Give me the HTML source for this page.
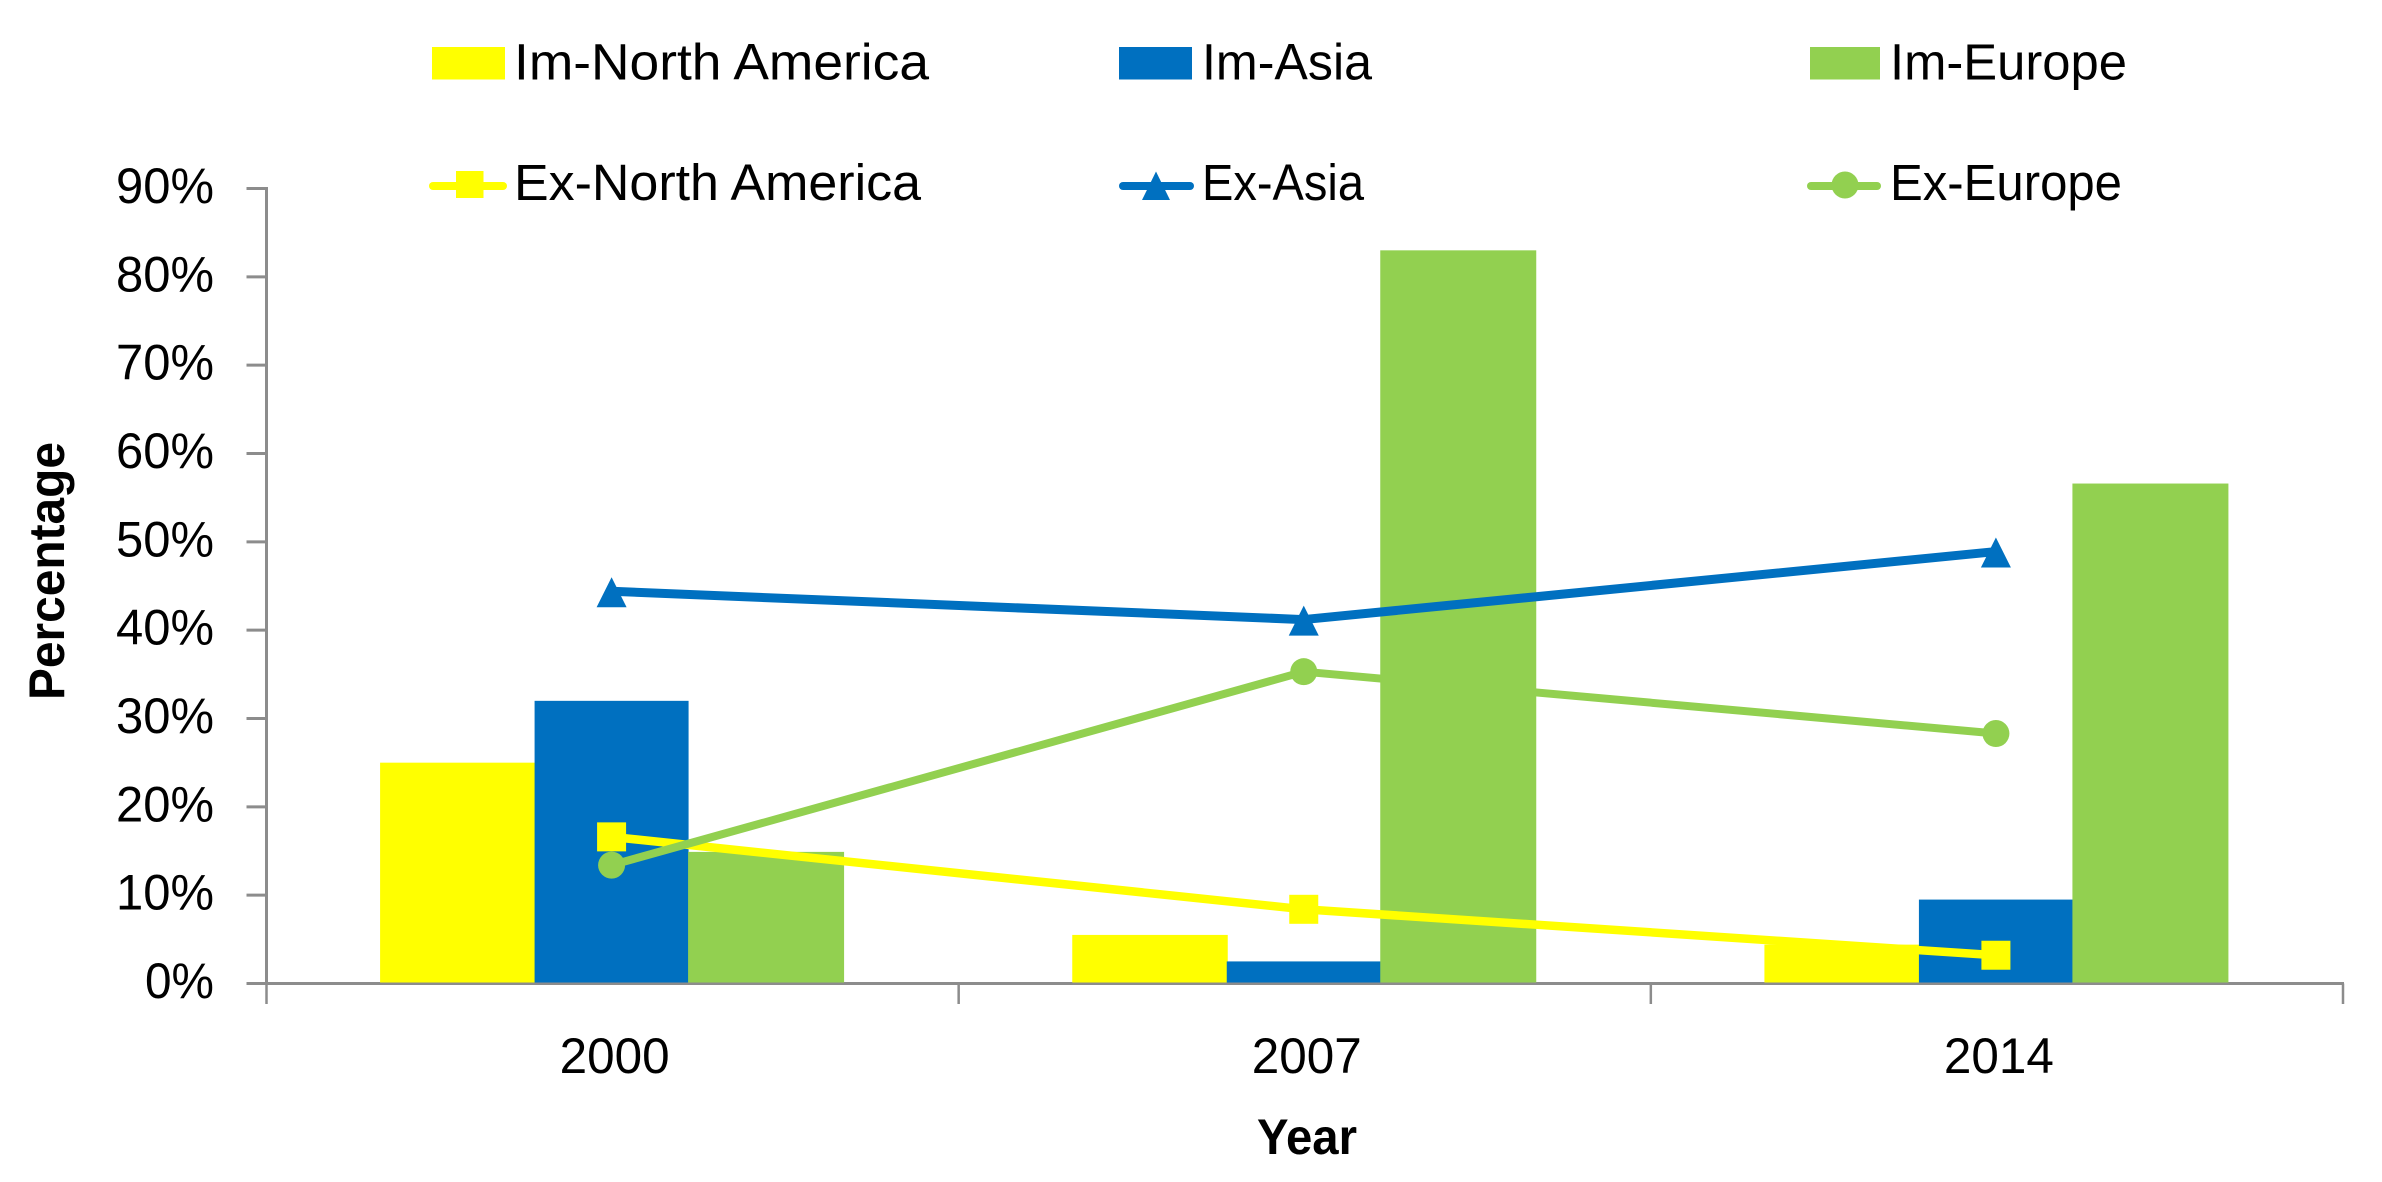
<!DOCTYPE html>
<html lang="en">
<head>
<meta charset="utf-8">
<title>Imports and exports by region</title>
<style>
html,body{margin:0;padding:0;background:#fff;}
svg{display:block;}
text{font-family:"Liberation Sans",sans-serif;fill:#000;}
</style>
</head>
<body>
<svg id="chart" xmlns="http://www.w3.org/2000/svg" width="2382" height="1182" viewBox="0 0 2382 1182">
  <rect x="0" y="0" width="2382" height="1182" fill="#ffffff"/>
  <g id="axes"></g>
  <g id="bars"></g>
  <g id="lines"></g>
  <text transform="translate(64,700) rotate(-90)" font-size="50" font-weight="700" textLength="258" lengthAdjust="spacingAndGlyphs">Percentage</text>
  <text x="1257" y="1154" font-size="50" font-weight="700" textLength="100" lengthAdjust="spacingAndGlyphs">Year</text>
  <g>
    <g>
      <rect x="432" y="47" width="73" height="32.5" fill="#FFFF00"/>
      <text x="514" y="79.5" font-size="51" textLength="415" lengthAdjust="spacingAndGlyphs">Im-North America</text>
    </g>
    <g>
      <rect x="1119" y="47" width="73" height="32.5" fill="#0070C0"/>
      <text x="1202" y="79.5" font-size="51" textLength="170" lengthAdjust="spacingAndGlyphs">Im-Asia</text>
    </g>
    <g>
      <rect x="1810" y="47" width="70" height="32.5" fill="#92D050"/>
      <text x="1890" y="79.5" font-size="51" textLength="237" lengthAdjust="spacingAndGlyphs">Im-Europe</text>
    </g>
    <g>
      <line x1="433" y1="186" x2="503" y2="186" stroke="#FFFF00" stroke-width="8" stroke-linecap="round"/>
      <rect x="456" y="171" width="27.5" height="27" fill="#FFFF00"/>
      <text x="514" y="200" font-size="51" textLength="407" lengthAdjust="spacingAndGlyphs">Ex-North America</text>
    </g>
    <g>
      <line x1="1123" y1="186" x2="1190" y2="186" stroke="#0070C0" stroke-width="8" stroke-linecap="round"/>
      <polygon points="1156,171.5 1142,200 1170,200" fill="#0070C0"/>
      <text x="1202" y="200" font-size="51" textLength="162" lengthAdjust="spacingAndGlyphs">Ex-Asia</text>
    </g>
    <g>
      <line x1="1811" y1="186" x2="1877" y2="186" stroke="#92D050" stroke-width="8" stroke-linecap="round"/>
      <circle cx="1845" cy="185" r="13.5" fill="#92D050"/>
      <text x="1890" y="200" font-size="51" textLength="232" lengthAdjust="spacingAndGlyphs">Ex-Europe</text>
    </g>
  </g>
</svg>
<script>
const categories = ["2000", "2007", "2014"];
const yTickValues = [0, 10, 20, 30, 40, 50, 60, 70, 80, 90];
const yTickLabels = ["0%", "10%", "20%", "30%", "40%", "50%", "60%", "70%", "80%", "90%"];
const imNorthAmerica = [25.0, 5.5, 4.4];
const imAsia = [32.0, 2.5, 9.5];
const imEurope = [14.9, 83.0, 56.6];
const exNorthAmerica = [16.6, 8.4, 3.2];
const exAsia = [44.4, 41.2, 48.9];
const exEurope = [13.4, 35.3, 28.3];

const NS = "http://www.w3.org/2000/svg";
const plotLeft = 266.5, plotRight = 2343, plotBottom = 983.5, plotTop = 188.5;
const yMax = 90;

function yScale(v) { return plotBottom - (v / yMax) * (plotBottom - plotTop); }
function bandWidth() { return (plotRight - plotLeft) / categories.length; }
function xCenter(i) { return plotLeft + bandWidth() * (i + 0.5); }
function make(tag, attrs, parent) {
  const el = document.createElementNS(NS, tag);
  for (const k in attrs) el.setAttribute(k, attrs[k]);
  parent.appendChild(el);
  return el;
}

const axes = document.getElementById("axes");
const barsG = document.getElementById("bars");
const linesG = document.getElementById("lines");
const gray = "#8c8c8c";

let yAxis = make("line", {x1: plotLeft, y1: plotTop - 1.5, x2: plotLeft, y2: plotBottom, stroke: gray, "stroke-width": 3}, axes);



yTickValues.forEach(function (v, i) {
  const tick = make("line", {x1: plotLeft - 20, y1: yScale(v), x2: plotLeft, y2: yScale(v), stroke: gray, "stroke-width": 3}, axes);
  
  
  const label = make("text", {x: 214, y: yScale(v) + 14.5, "font-size": 50, "text-anchor": "end", textLength: v === 0 ? 69 : 98, lengthAdjust: "spacingAndGlyphs"}, axes);
  label.textContent = yTickLabels[i];
  
  
});

let xAxis = make("line", {x1: plotLeft - 20, y1: plotBottom, x2: plotRight + 1, y2: plotBottom, stroke: gray, "stroke-width": 3}, axes);



for (let i = 0; i <= categories.length; i++) {
  const tx = plotLeft + bandWidth() * i;
  const tick = make("line", {x1: tx, y1: plotBottom, x2: tx, y2: 1004, stroke: gray, "stroke-width": 2.5}, axes);
  
  
}

categories.forEach(function (c, i) {
  const label = make("text", {x: xCenter(i) + 2, y: 1073, "font-size": 50, "text-anchor": "middle", textLength: 110, lengthAdjust: "spacingAndGlyphs"}, axes);
  label.textContent = c;
  
  
});

function drawBars(values, offset, width, color) {
  values.forEach(function (v, i) {
    const bar = make("rect", {x: xCenter(i) + offset, y: yScale(v), width: width, height: plotBottom - 1 - yScale(v), fill: color}, barsG);
    
    
  });
}
drawBars(imNorthAmerica, -232.5, 155.5, "#FFFF00");
drawBars(imAsia, -78, 154, "#0070C0");
drawBars(imEurope, 75.5, 156, "#92D050");

function drawLine(values, color, marker, strokeWidth) {
  const pts = values.map(function (v, i) { return (xCenter(i) - 1) + "," + yScale(v); }).join(" ");
  const path = make("polyline", {points: pts, fill: "none", stroke: color, "stroke-width": strokeWidth, "stroke-linejoin": "round"}, linesG);
  
  
  values.forEach(function (v, i) {
    const x = xCenter(i) - 1, y = yScale(v);
    let m;
    if (marker === "square") {
      m = make("rect", {x: x - 14.5, y: y - 14.5, width: 29, height: 29, fill: color}, linesG);
    } else if (marker === "triangle") {
      m = make("polygon", {points: [x, y - 14, x - 15, y + 16, x + 15, y + 16].join(","), fill: color}, linesG);
    } else {
      m = make("circle", {cx: x, cy: y, r: 13.5, fill: color}, linesG);
    }
    
    
  });
}
drawLine(exNorthAmerica, "#FFFF00", "square", 8.5);
drawLine(exAsia, "#0070C0", "triangle", 9);
drawLine(exEurope, "#92D050", "circle", 8);
</script>
</body>
</html>
